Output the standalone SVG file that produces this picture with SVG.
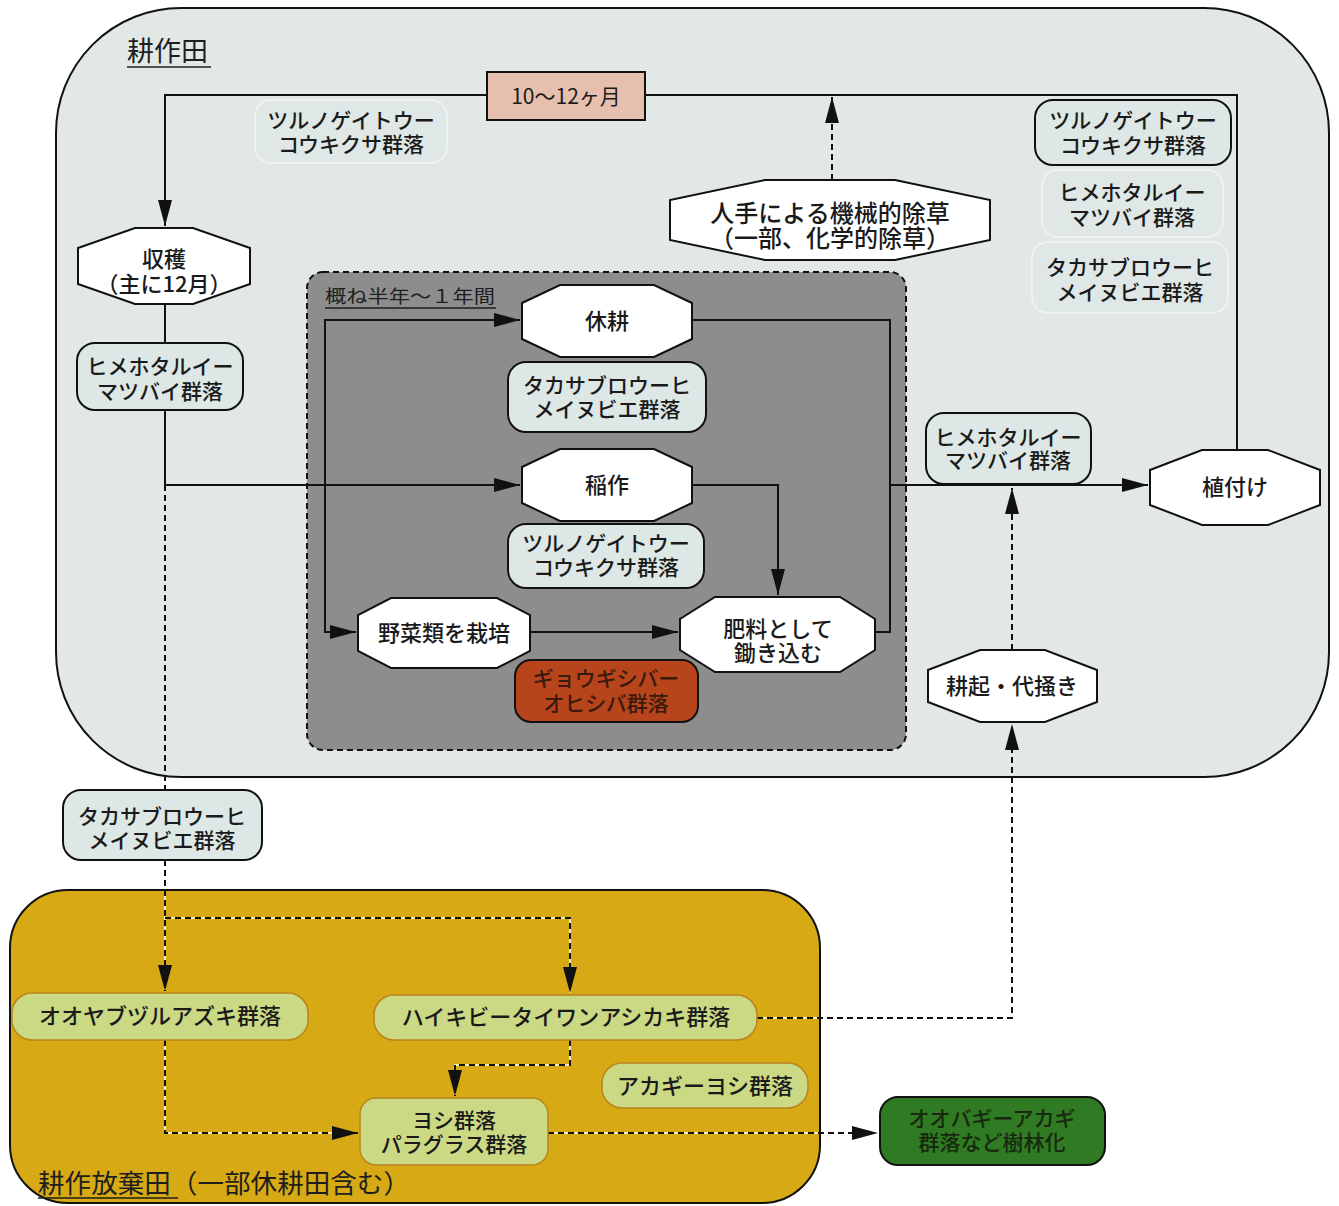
<svg xmlns="http://www.w3.org/2000/svg" width="1339" height="1206" viewBox="0 0 1339 1206">
  <style>
    .t { font-family: "Noto Sans CJK JP", "Noto Sans", sans-serif; font-size: 21px; font-weight: 500; text-anchor: middle; fill: #1a1a1a; }
    .big { font-size: 22px; }
    .xl { font-size: 24px; }
    .thin { font-weight: normal; }
    .title { font-family: "Noto Sans CJK JP", "Noto Sans", sans-serif; font-weight: normal; fill: #1e1e1e; }
    .oct { fill: #ffffff; stroke: #111; stroke-width: 2; }
    .pale { fill: #dde7e5; stroke: #111; stroke-width: 2; }
    .faint { fill: #dfe8e6; stroke: #eef3f1; stroke-width: 2; }
    .lime { fill: #cbd985; stroke: #b8841c; stroke-width: 1.5; }
    .solid { fill: none; stroke: #111; stroke-width: 2; }
    .dash { fill: none; stroke: #111; stroke-width: 2; stroke-dasharray: 6 4; }
    .under { fill: none; stroke: #f6eab4; stroke-width: 2; }
  </style>
  <defs>
    <marker id="arrow" viewBox="0 0 26 14" refX="26" refY="7" markerWidth="26" markerHeight="14" markerUnits="userSpaceOnUse" orient="auto">
      <path d="M0,0 L26,7 L0,14 z" fill="#111"/>
    </marker>
    <clipPath id="yellowClip">
      <rect x="10" y="890" width="810" height="313" rx="58"/>
    </clipPath>
  </defs>

  <rect width="1339" height="1206" fill="#ffffff"/>

  <!-- containers -->
  <g id="field-cultivated">
    <rect x="56" y="8" width="1273" height="769" rx="125" fill="#e1e8e6" stroke="#111" stroke-width="2"/>
    <text class="title" x="127" y="61" style="font-size:27px">耕作田</text>
    <line x1="127" y1="67" x2="211" y2="67" stroke="#1e1e1e" stroke-width="1.5"/>
  </g>
  <g id="field-abandoned">
    <rect x="10" y="890" width="810" height="313" rx="58" fill="#d6a915" stroke="#111" stroke-width="2"/>
    <text class="title" x="38" y="1193" style="font-size:26px" textLength="372" lengthAdjust="spacingAndGlyphs">耕作放棄田（一部休耕田含む）</text>
    <line x1="38" y1="1198" x2="178" y2="1198" stroke="#1e1e1e" stroke-width="1.5"/>
  </g>
  <g id="period-box">
    <rect x="307" y="272" width="599" height="478" rx="16" fill="#8d8d8d" stroke="#111" stroke-width="2" stroke-dasharray="6 4"/>
    <text class="title" x="325" y="303" style="font-size:18px" textLength="170" lengthAdjust="spacingAndGlyphs">概ね半年～１年間</text>
    <line x1="325" y1="308" x2="496" y2="308" stroke="#1e1e1e" stroke-width="1.5"/>
  </g>

  <!-- connectors -->
  <g id="connectors">
    <path class="solid" d="M1237,450 V95 H165 V226" marker-end="url(#arrow)"/>
    <path class="solid" d="M165,304 V343"/>
    <path class="solid" d="M165,410 V485 H520" marker-end="url(#arrow)"/>
    <path class="solid" d="M325,485 V320 H520" marker-end="url(#arrow)"/>
    <path class="solid" d="M325,485 V632 H356" marker-end="url(#arrow)"/>
    <path class="solid" d="M692,485 H778 V595" marker-end="url(#arrow)"/>
    <path class="solid" d="M530,632 H678" marker-end="url(#arrow)"/>
    <path class="solid" d="M875,632 H890 V320 H692"/>
    <path class="solid" d="M890,485 H1148" marker-end="url(#arrow)"/>

    <path class="dash" d="M832,180 V97" marker-end="url(#arrow)"/>
    <path class="dash" d="M1012,650 V488" marker-end="url(#arrow)"/>

    <g clip-path="url(#yellowClip)">
      <path class="under" d="M165,860 V991"/>
      <path class="under" d="M165,918 H570 V993"/>
      <path class="under" d="M757,1018 H1012"/>
      <path class="under" d="M165,1040 V1133 H358"/>
      <path class="under" d="M570,1040 V1065 H455 V1096"/>
      <path class="under" d="M548,1133 H878"/>
    </g>
    <path class="dash" d="M757,1018 H1012 V724" marker-end="url(#arrow)"/>
    <path class="dash" d="M165,485 V790"/>
    <path class="dash" d="M165,860 V991" marker-end="url(#arrow)"/>
    <path class="dash" d="M165,918 H570 V993" marker-end="url(#arrow)"/>
    <path class="dash" d="M165,1040 V1133 H358" marker-end="url(#arrow)"/>
    <path class="dash" d="M570,1040 V1065 H455 V1096" marker-end="url(#arrow)"/>
    <path class="dash" d="M548,1133 H878" marker-end="url(#arrow)"/>
  </g>

  <!-- nodes -->
  <g id="duration">
    <rect x="487" y="72" width="158" height="48" fill="#e6bfae" stroke="#111" stroke-width="2"/>
    <text class="t thin" x="566" y="104">10～12ヶ月</text>
  </g>
  <g id="comm-tsuru-top">
    <rect class="faint" x="255" y="100" width="192" height="63" rx="16"/>
    <text class="t"><tspan x="351" y="128">ツルノゲイトウー</tspan><tspan x="351" y="152">コウキクサ群落</tspan></text>
  </g>
  <g id="comm-tsuru-right">
    <rect class="pale" x="1035" y="100" width="196" height="65" rx="18"/>
    <text class="t"><tspan x="1133" y="128">ツルノゲイトウー</tspan><tspan x="1133" y="153">コウキクサ群落</tspan></text>
  </g>
  <g id="comm-hime-right-top">
    <rect class="faint" x="1042" y="170" width="181" height="67" rx="16"/>
    <text class="t"><tspan x="1132" y="200">ヒメホタルイー</tspan><tspan x="1132" y="225">マツバイ群落</tspan></text>
  </g>
  <g id="comm-taka-right-top">
    <rect class="faint" x="1032" y="242" width="196" height="71" rx="16"/>
    <text class="t"><tspan x="1130" y="275">タカサブロウーヒ</tspan><tspan x="1130" y="300">メイヌビエ群落</tspan></text>
  </g>
  <g id="weeding">
    <polygon class="oct" points="765,180 895,180 990,200 990,240 895,260 765,260 670,240 670,200"/>
    <text class="t xl"><tspan x="830" y="222">人手による機械的除草</tspan><tspan x="830" y="247">（一部、化学的除草）</tspan></text>
  </g>
  <g id="harvest">
    <polygon class="oct" points="135,228 193,228 250,248 250,284 193,304 135,304 78,284 78,248"/>
    <text class="t big"><tspan x="164" y="267">収穫</tspan><tspan x="164" y="292">（主に12月）</tspan></text>
  </g>
  <g id="comm-hime-left">
    <rect class="pale" x="77" y="343" width="166" height="67" rx="18"/>
    <text class="t"><tspan x="160" y="374">ヒメホタルイー</tspan><tspan x="160" y="399">マツバイ群落</tspan></text>
  </g>
  <g id="fallow">
    <polygon class="oct" points="560,285 654,285 692,303 692,339 654,357 560,357 522,339 522,303"/>
    <text class="t big" x="607" y="329">休耕</text>
  </g>
  <g id="comm-taka-inner">
    <rect class="pale" x="508" y="362" width="198" height="70" rx="18"/>
    <text class="t"><tspan x="607" y="393">タカサブロウーヒ</tspan><tspan x="607" y="417">メイヌビエ群落</tspan></text>
  </g>
  <g id="rice">
    <polygon class="oct" points="560,449 654,449 692,467 692,503 654,521 560,521 522,503 522,467"/>
    <text class="t big" x="607" y="493">稲作</text>
  </g>
  <g id="comm-tsuru-inner">
    <rect class="pale" x="508" y="524" width="196" height="64" rx="18"/>
    <text class="t"><tspan x="606" y="551">ツルノゲイトウー</tspan><tspan x="606" y="575">コウキクサ群落</tspan></text>
  </g>
  <g id="vegetables">
    <polygon class="oct" points="391,598 497,598 530,615 530,651 497,668 391,668 358,651 358,615"/>
    <text class="t big" x="444" y="641">野菜類を栽培</text>
  </g>
  <g id="plow-in">
    <polygon class="oct" points="715,597 840,597 875,619 875,650 840,672 715,672 680,650 680,619"/>
    <text class="t big"><tspan x="778" y="637">肥料として</tspan><tspan x="778" y="661">鋤き込む</tspan></text>
  </g>
  <g id="comm-gyougi">
    <rect x="515" y="660" width="183" height="62" rx="16" fill="#b8441c" stroke="#111" stroke-width="2"/>
    <text class="t" style="fill:#3a1a0c"><tspan x="606" y="686">ギョウギシバー</tspan><tspan x="606" y="711">オヒシバ群落</tspan></text>
  </g>
  <g id="comm-hime-mid">
    <rect class="pale" x="926" y="413" width="165" height="71" rx="18"/>
    <text class="t"><tspan x="1008" y="445">ヒメホタルイー</tspan><tspan x="1008" y="468">マツバイ群落</tspan></text>
  </g>
  <g id="planting">
    <polygon class="oct" points="1202,450 1268,450 1320,470 1320,505 1268,525 1202,525 1150,505 1150,470"/>
    <text class="t big" x="1235" y="495">植付け</text>
  </g>
  <g id="tillage">
    <polygon class="oct" points="980,650 1045,650 1097,670 1097,702 1045,722 980,722 928,702 928,670"/>
    <text class="t big" x="1012" y="694">耕起・代掻き</text>
  </g>
  <g id="comm-taka-mid">
    <rect class="pale" x="63" y="790" width="199" height="70" rx="18"/>
    <text class="t"><tspan x="162" y="824">タカサブロウーヒ</tspan><tspan x="162" y="848">メイヌビエ群落</tspan></text>
  </g>
  <g id="comm-ooyabu">
    <rect class="lime" x="12" y="993" width="296" height="47" rx="20"/>
    <text class="t big" x="160" y="1024">オオヤブヅルアズキ群落</text>
  </g>
  <g id="comm-haikibi">
    <rect class="lime" x="374" y="995" width="383" height="45" rx="20"/>
    <text class="t big" x="566" y="1025">ハイキビータイワンアシカキ群落</text>
  </g>
  <g id="comm-akagi-yoshi">
    <rect class="lime" x="602" y="1063" width="206" height="45" rx="20"/>
    <text class="t big" x="705" y="1094">アカギーヨシ群落</text>
  </g>
  <g id="comm-yoshi">
    <rect class="lime" x="360" y="1098" width="188" height="67" rx="16"/>
    <text class="t"><tspan x="454" y="1128">ヨシ群落</tspan><tspan x="454" y="1152">パラグラス群落</tspan></text>
  </g>
  <g id="forest">
    <rect x="880" y="1097" width="225" height="68" rx="18" fill="#2f7a22" stroke="#111" stroke-width="2"/>
    <text class="t" style="fill:#17290f"><tspan x="992" y="1126">オオバギーアカギ</tspan><tspan x="992" y="1150">群落など樹林化</tspan></text>
  </g>
</svg>
